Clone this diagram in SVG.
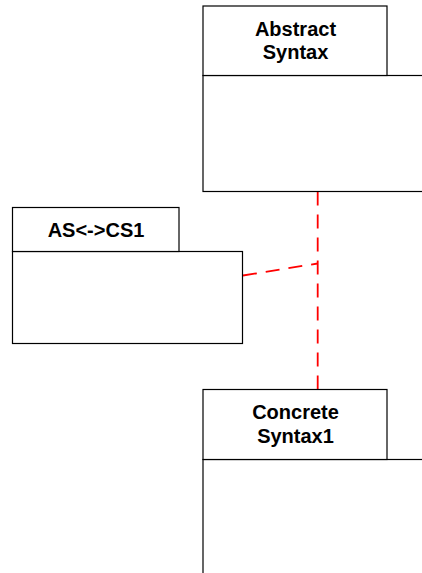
<svg xmlns="http://www.w3.org/2000/svg" width="422" height="573" viewBox="0 0 422 573">
  <style>
    .box { fill: #fff; stroke: #000; stroke-width: 1.2; }
    .name { font-family: "Liberation Sans", Arial, sans-serif; font-weight: bold; font-size: 20px; fill: #000; text-anchor: middle; }
    .dep { fill: none; stroke: #f00; stroke-width: 1.8; stroke-dasharray: 14 9; }
  </style>
  <rect width="422" height="573" fill="#fff"/>

  <g id="connectors">
    <line class="dep" x1="317.7" y1="191.5" x2="317.7" y2="389"/>
    <line class="dep" x1="243" y1="275.5" x2="317.7" y2="263.5"/>
  </g>

  <g id="abstract-syntax">
    <rect class="box" x="203" y="75.5" width="230" height="116"/>
    <rect class="box" x="203" y="6" width="184" height="69.5"/>
    <text class="name" x="295.5" y="35.5">Abstract</text>
    <text class="name" x="295.5" y="59">Syntax</text>
  </g>

  <g id="as-cs1">
    <rect class="box" x="12.5" y="251.5" width="230" height="92"/>
    <rect class="box" x="12.5" y="207.5" width="166.5" height="44"/>
    <text class="name" x="96" y="237">AS&lt;-&gt;CS1</text>
  </g>

  <g id="concrete-syntax1">
    <rect class="box" x="203" y="459.5" width="230" height="130"/>
    <rect class="box" x="203" y="389.5" width="184" height="70"/>
    <text class="name" x="295.5" y="419">Concrete</text>
    <text class="name" x="295.5" y="442.5">Syntax1</text>
  </g>
</svg>
